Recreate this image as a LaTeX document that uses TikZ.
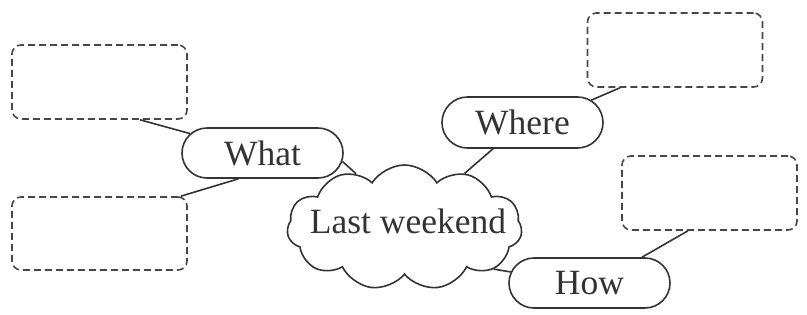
\documentclass[tikz,border=0pt]{standalone}
\usepackage{fontspec}
\setmainfont{Liberation Serif}
\usetikzlibrary{shapes.misc,shapes.symbols}
\definecolor{ink}{HTML}{333333}
\begin{document}
\begin{tikzpicture}[x=1pt,y=-1pt,
  blank/.style={draw=ink!90, dash pattern=on 7pt off 4pt, line width=1.6pt, rounded corners=9pt, minimum width=175pt, minimum height=74pt, inner sep=0pt},
  pill/.style={draw=ink, rounded rectangle, line width=1.6pt, minimum width=161pt, minimum height=50pt, inner sep=0pt, font=\fontsize{35.5}{38}\selectfont, text=ink},
  link/.style={draw=ink, line width=1.6pt}]
\useasboundingbox (0,0) rectangle (807,314);
\node[blank] (tl) at (99.5,82) {};
\node[blank, minimum height=73pt] (bl) at (99.5,233.5) {};
\node[blank] (tr) at (675,50) {};
\node[blank] (br) at (709.5,193) {};
\node[pill] (what) at (262.5,153) {What};
\node[pill, minimum height=51pt] (where) at (522.5,122.5) {Where};
\node[pill] (how) at (589.5,283) {How};
\node[cloud, cloud puffs=11, cloud puff arc=115, aspect=1.9, draw=ink, line width=1.6pt, minimum width=235pt, minimum height=125pt, inner sep=0pt] (lw) at (404.5,227.5) {};
\node[text=ink, font=\fontsize{35.5}{38}\selectfont] (lwt) at (408,221) {Last weekend};
\draw[link] ([xshift=40.5pt]tl.south) -- (what.165);
\draw[link] ([xshift=-24pt]what.south) -- ([xshift=-7pt]bl.north east);
\draw[link] (what.-6) -- (lw.132);
\draw[link] ([xshift=-29.5pt]where.south) -- (lw.42);
\draw[link] (where.18) -- ([xshift=-55pt]tr.south);
\draw[link] (lw.-25) -- (how.172);
\draw[link] ([xshift=52.5pt]how.north) -- ([xshift=-21.5pt]br.south);
\end{tikzpicture}
\end{document}
